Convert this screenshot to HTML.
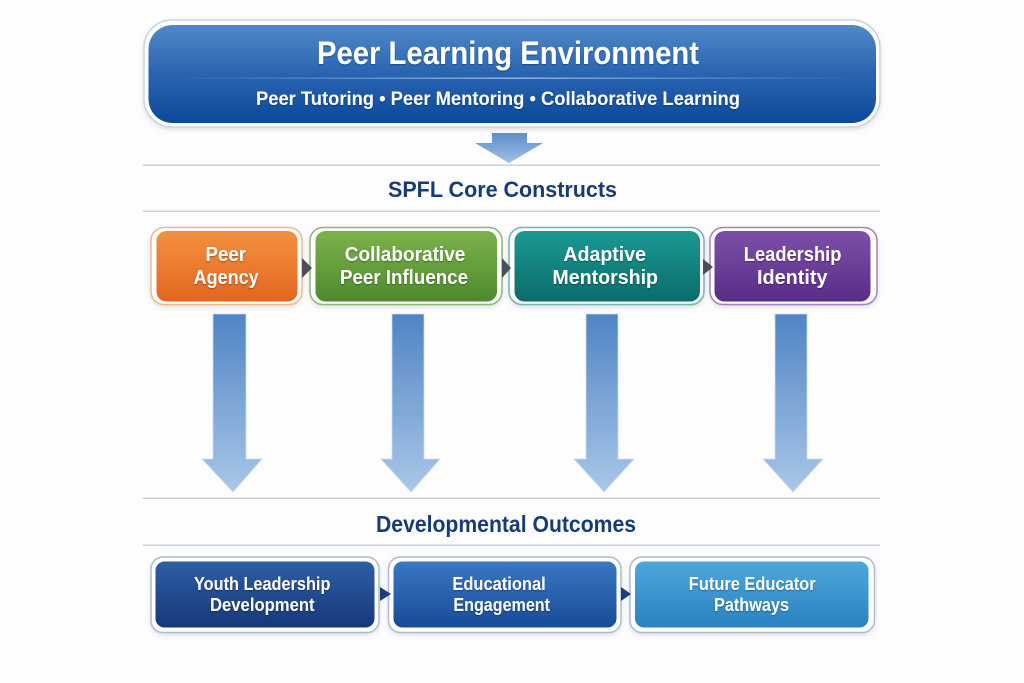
<!DOCTYPE html>
<html><head><meta charset="utf-8"><style>
html,body{margin:0;padding:0;background:#fdfdfe;}
svg{display:block;}
text{font-family:"Liberation Sans",sans-serif;font-weight:bold;}
</style></head><body>
<svg width="1024" height="683" viewBox="0 0 1024 683" xmlns="http://www.w3.org/2000/svg">
<defs>
<linearGradient id="gTop" x1="0" y1="0" x2="0" y2="1"><stop offset="0" stop-color="#5088c7"/><stop offset="0.5" stop-color="#2a64b1"/><stop offset="1" stop-color="#0b4999"/></linearGradient>
<linearGradient id="gOr" x1="0" y1="0" x2="0" y2="1"><stop offset="0" stop-color="#f3913f"/><stop offset="1" stop-color="#e2661f"/></linearGradient>
<linearGradient id="gGr" x1="0" y1="0" x2="0" y2="1"><stop offset="0" stop-color="#7cb24a"/><stop offset="1" stop-color="#4d8a2f"/></linearGradient>
<linearGradient id="gTe" x1="0" y1="0" x2="0" y2="1"><stop offset="0" stop-color="#1c9993"/><stop offset="1" stop-color="#0a6c6b"/></linearGradient>
<linearGradient id="gPu" x1="0" y1="0" x2="0" y2="1"><stop offset="0" stop-color="#7d50a8"/><stop offset="1" stop-color="#592c88"/></linearGradient>
<linearGradient id="gO1" x1="0" y1="0" x2="0" y2="1"><stop offset="0" stop-color="#2f5ea4"/><stop offset="1" stop-color="#16387a"/></linearGradient>
<linearGradient id="gO2" x1="0" y1="0" x2="0" y2="1"><stop offset="0" stop-color="#3b77c2"/><stop offset="1" stop-color="#184b98"/></linearGradient>
<linearGradient id="gO3" x1="0" y1="0" x2="0" y2="1"><stop offset="0" stop-color="#4ea7db"/><stop offset="1" stop-color="#2a82c0"/></linearGradient>
<linearGradient id="gAr" x1="0" y1="0" x2="0" y2="1"><stop offset="0" stop-color="#4f84c4"/><stop offset="1" stop-color="#a9c7e8"/></linearGradient>
<linearGradient id="gSm" x1="0" y1="0" x2="0" y2="1"><stop offset="0" stop-color="#5c8fcb"/><stop offset="1" stop-color="#9fc0e6"/></linearGradient>
<linearGradient id="gHl" x1="0" y1="0" x2="1" y2="0"><stop offset="0" stop-color="#9cc0ea" stop-opacity="0"/><stop offset="0.5" stop-color="#a8c8f0" stop-opacity="0.8"/><stop offset="1" stop-color="#9cc0ea" stop-opacity="0"/></linearGradient>
<filter id="ts" x="-10%" y="-30%" width="120%" height="160%"><feDropShadow dx="0" dy="1" stdDeviation="0.8" flood-color="#000" flood-opacity="0.35"/></filter>
<filter id="bs" x="-5%" y="-10%" width="110%" height="125%"><feDropShadow dx="0" dy="2" stdDeviation="2" flood-color="#667" flood-opacity="0.2"/></filter>
</defs>

<!-- Top box -->
<rect x="144" y="20" width="736" height="107" rx="28" fill="#fff" stroke="#c9d3e2" stroke-width="1.5" filter="url(#bs)"/>
<rect x="148.5" y="25" width="727.5" height="98" rx="24" fill="url(#gTop)"/>
<rect x="170" y="77.5" width="690" height="1.5" fill="url(#gHl)"/>
<text x="317" y="64" font-size="32" fill="#fff" textLength="382" lengthAdjust="spacingAndGlyphs" filter="url(#ts)">Peer Learning Environment</text>
<text x="256" y="105" font-size="19" fill="#fff" textLength="484" lengthAdjust="spacingAndGlyphs" filter="url(#ts)">Peer Tutoring • Peer Mentoring • Collaborative Learning</text>

<!-- small arrow -->
<polygon points="492,133 527,133 527,143 543,143 509,163 475,143 492,143" fill="url(#gSm)"/>

<!-- separators -->
<rect x="143" y="164.5" width="737" height="1.5" fill="#cdd1da"/>
<rect x="143" y="210.5" width="737" height="1.5" fill="#cdd1da"/>
<text x="388" y="197" font-size="22" fill="#173b78" textLength="229" lengthAdjust="spacingAndGlyphs">SPFL Core Constructs</text>

<!-- construct boxes -->
<rect x="151" y="227.5" width="151" height="77" rx="13" fill="#fff" stroke="#f0b88f" stroke-width="1.5" filter="url(#bs)"/>
<rect x="156.5" y="231" width="141" height="70.5" rx="10" fill="url(#gOr)"/>
<rect x="310" y="227.5" width="192" height="77" rx="13" fill="#fff" stroke="#8cb874" stroke-width="1.5" filter="url(#bs)"/>
<rect x="315.5" y="231" width="181.5" height="70.5" rx="10" fill="url(#gGr)"/>
<rect x="509" y="227.5" width="195" height="77" rx="13" fill="#fff" stroke="#72b4b1" stroke-width="1.5" filter="url(#bs)"/>
<rect x="514.5" y="231" width="185.5" height="70.5" rx="10" fill="url(#gTe)"/>
<rect x="710" y="227.5" width="167" height="77" rx="13" fill="#fff" stroke="#a283c0" stroke-width="1.5" filter="url(#bs)"/>
<rect x="714.5" y="231" width="156" height="70.5" rx="10" fill="url(#gPu)"/>

<polygon points="302,258 312,268 302,278" fill="#4a4f5a"/>
<polygon points="502,258 511,268 502,278" fill="#4a4f5a"/>
<polygon points="703,259 713,267 703,275" fill="#4a4f5a"/>

<g fill="#fff" font-size="20" filter="url(#ts)">
<text x="205.5" y="261" textLength="40.5" lengthAdjust="spacingAndGlyphs">Peer</text>
<text x="193.6" y="284" textLength="65" lengthAdjust="spacingAndGlyphs">Agency</text>
<text x="344.8" y="261" textLength="120.6" lengthAdjust="spacingAndGlyphs">Collaborative</text>
<text x="340" y="284" textLength="128" lengthAdjust="spacingAndGlyphs">Peer Influence</text>
<text x="563.4" y="261" textLength="82.6" lengthAdjust="spacingAndGlyphs">Adaptive</text>
<text x="552.4" y="284" textLength="105.6" lengthAdjust="spacingAndGlyphs">Mentorship</text>
<text x="743.8" y="261" textLength="97.6" lengthAdjust="spacingAndGlyphs">Leadership</text>
<text x="757" y="284" textLength="70.6" lengthAdjust="spacingAndGlyphs">Identity</text>
</g>

<!-- big arrows -->
<g fill="url(#gAr)" stroke="#c9dcf1" stroke-width="0.8">
<polygon points="213,314 246,314 246,459 262,459 233,492 202,459 213,459"/>
<polygon points="392,314 424,314 424,459 440,459 411,492 381,459 392,459"/>
<polygon points="586,314 618,314 618,459 634,459 604,492 574,459 586,459"/>
<polygon points="775,314 807,314 807,459 823,459 793,492 763,459 775,459"/>
</g>

<rect x="143" y="497.5" width="737" height="1.5" fill="#cdd1da"/>
<rect x="143" y="544.5" width="737" height="1.5" fill="#cdd1da"/>
<text x="376" y="532" font-size="23" fill="#173b78" textLength="260" lengthAdjust="spacingAndGlyphs">Developmental Outcomes</text>

<!-- outcome boxes -->
<rect x="151" y="557" width="228" height="75.5" rx="12" fill="#fff" stroke="#aebcd2" stroke-width="1.5" filter="url(#bs)"/>
<rect x="155.5" y="561.5" width="219" height="66" rx="9" fill="url(#gO1)"/>
<rect x="388.5" y="557" width="232.5" height="75.5" rx="12" fill="#fff" stroke="#aebcd2" stroke-width="1.5" filter="url(#bs)"/>
<rect x="393.5" y="561.5" width="223" height="66" rx="9" fill="url(#gO2)"/>
<rect x="630" y="557" width="244.5" height="75.5" rx="12" fill="#fff" stroke="#aebcd2" stroke-width="1.5" filter="url(#bs)"/>
<rect x="635" y="561.5" width="233.5" height="66" rx="9" fill="url(#gO3)"/>

<polygon points="380,587 391,594 380,601" fill="#1a3f7a"/>
<polygon points="621,587 631,594 621,601" fill="#1a3f7a"/>

<g fill="#fff" font-size="18" filter="url(#ts)">
<text x="194" y="590" textLength="136.4" lengthAdjust="spacingAndGlyphs">Youth Leadership</text>
<text x="210" y="611" textLength="104.6" lengthAdjust="spacingAndGlyphs">Development</text>
<text x="452.4" y="590" textLength="93.3" lengthAdjust="spacingAndGlyphs">Educational</text>
<text x="453.4" y="611" textLength="96.6" lengthAdjust="spacingAndGlyphs">Engagement</text>
<text x="688.8" y="590" textLength="126.8" lengthAdjust="spacingAndGlyphs">Future Educator</text>
<text x="714" y="611" textLength="75" lengthAdjust="spacingAndGlyphs">Pathways</text>
</g>
</svg>
</body></html>
